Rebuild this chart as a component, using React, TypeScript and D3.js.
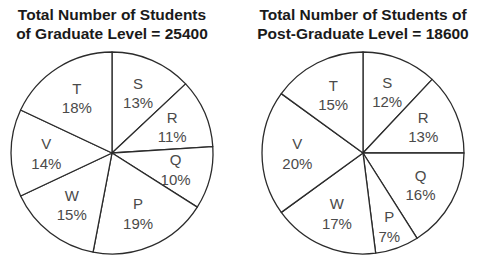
import React from "react";
import * as d3 from "d3";

// Slice order runs clockwise from 12 o'clock
const sliceLabels = ["S", "R", "Q", "P", "W", "V", "T"];
const graduateShares = [13, 11, 10, 19, 15, 14, 18];
const postGraduateShares = [12, 13, 16, 7, 17, 20, 15];

const graduateTitle = ["Total Number of Students", "of Graduate Level = 25400"];
const postGraduateTitle = ["Total Number of Students of", "Post-Graduate Level = 18600"];

const WIDTH = 482;
const HEIGHT = 262;
const RADIUS = 101;
const CENTER_Y = 153;
const FONT = "'Liberation Sans', Arial, Helvetica, sans-serif";

type PieProps = { cx: number; values: number[]; title: string[] };

function Pie({ cx, values, title }: PieProps) {
  const data = sliceLabels.map((label, i) => ({ label, value: values[i] }));
  const pie = d3
    .pie<{ label: string; value: number }>()
    .value((d) => d.value)
    .sort(null)
    .startAngle(0)
    .endAngle(2 * Math.PI);
  const arcs = pie(data);
  const arc = d3
    .arc<d3.PieArcDatum<{ label: string; value: number }>>()
    .innerRadius(0)
    .outerRadius(RADIUS);

  return (
    <g>
      {title.map((line, i) => (
        <text
          key={i}
          x={cx}
          y={19.5 + i * 19}
          textAnchor="middle"
          fontFamily={FONT}
          fontWeight="bold"
          fontSize={15.5}
          fill="#1a1a1a"
        >
          {line}
        </text>
      ))}
      <g transform={`translate(${cx},${CENTER_Y})`}>
        {arcs.map((a, i) => (
          <path
            key={i}
            d={arc(a) || ""}
            fill="#ffffff"
            stroke="#2b2b2b"
            strokeWidth={1.3}
            strokeLinejoin="round"
          />
        ))}
        {arcs.map((a, i) => {
          // narrow slices push their label further out
          const r = a.data.value < 10 ? RADIUS * 0.77 : RADIUS * 0.65;
          const mid = (a.startAngle + a.endAngle) / 2;
          const x = Math.sin(mid) * r;
          const y = -Math.cos(mid) * r;
          return (
            <g key={`l${i}`} fontFamily={FONT} fontSize={15} fill="#4a4a4a" textAnchor="middle">
              <text x={x} y={y - 9.5} dominantBaseline="central">
                {a.data.label}
              </text>
              <text x={x} y={y + 10} dominantBaseline="central">
                {`${a.data.value}%`}
              </text>
            </g>
          );
        })}
      </g>
    </g>
  );
}

export default function App() {
  return (
    <svg
      width={WIDTH}
      height={HEIGHT}
      viewBox={`0 0 ${WIDTH} ${HEIGHT}`}
      style={{ position: "absolute", left: 0, top: 0, background: "#ffffff" }}
    >
      <rect width={WIDTH} height={HEIGHT} fill="#ffffff" />
      <Pie cx={112} values={graduateShares} title={graduateTitle} />
      <Pie cx={363} values={postGraduateShares} title={postGraduateTitle} />
    </svg>
  );
}
